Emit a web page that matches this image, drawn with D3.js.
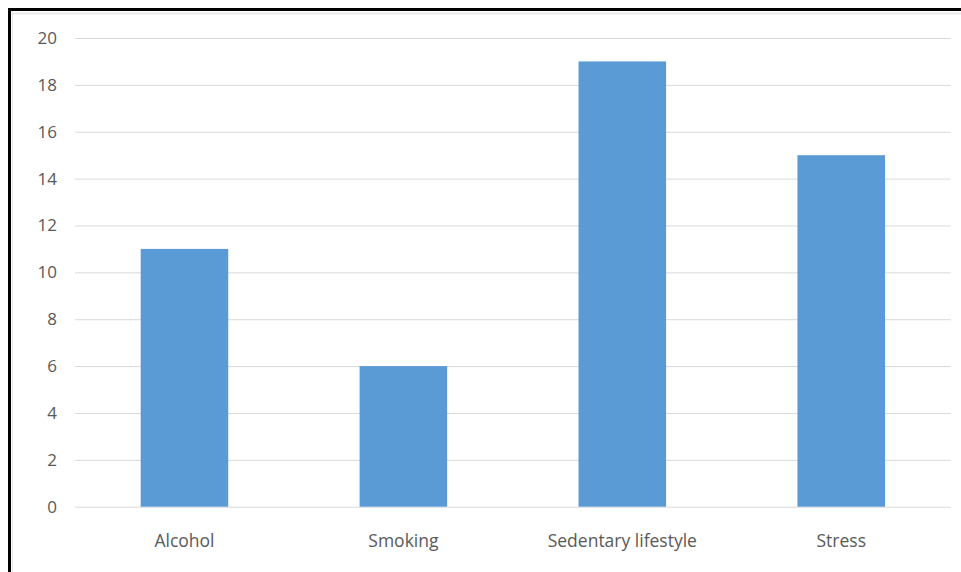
<!DOCTYPE html>
<html>
<head>
<meta charset="utf-8">
<script src="https://d3js.org/d3.v7.min.js"></script>
<style>
  html, body { margin: 0; padding: 0; background: #fff; }
  svg { display: block; }
</style>
</head>
<body>
<svg id="chart" width="961" height="572"></svg>
<script>
const categories = ["Alcohol", "Smoking", "Sedentary lifestyle", "Stress"];
const values = [11, 6, 19, 15];
const yTicks = [0, 2, 4, 6, 8, 10, 12, 14, 16, 18, 20];

const svg = d3.select("#chart");
const W = 961, H = 572;
const plot = { left: 75, right: 950.7, top: 38, bottom: 506.7 };
const FONT = "'Open Sans', 'Noto Sans', sans-serif";

// frame
svg.append("rect").attr("x", 0).attr("y", 0).attr("width", W).attr("height", H).attr("fill", "#fff");
svg.append("line").attr("x1", 11.5).attr("x2", W).attr("y1", 13.5).attr("y2", 13.5)
  .attr("stroke", "#e4e4e4").attr("stroke-width", 1.5);
svg.append("line").attr("x1", 12.5).attr("x2", 12.5).attr("y1", 11).attr("y2", H)
  .attr("stroke", "#e4e4e4").attr("stroke-width", 1);
svg.append("path").attr("d", `M${W},9.5 H9.5 V${H}`)
  .attr("fill", "none").attr("stroke", "#000").attr("stroke-width", 3);

const x = d3.scaleBand().domain(categories).range([plot.left, plot.right]).paddingInner(0).paddingOuter(0);
const y = d3.scaleLinear().domain([0, 20]).range([plot.bottom, plot.top]);

// gridlines + y labels
const yAxis = d3.axisLeft(y).tickValues(yTicks).tickSize(-(plot.right - plot.left)).tickPadding(18);
const gy = svg.append("g").attr("transform", `translate(${plot.left},0)`).call(yAxis);
gy.select(".domain").remove();
gy.selectAll(".tick line").attr("stroke", "#d9d9d9").attr("stroke-width", 1);
gy.selectAll(".tick text").attr("fill", "#595959").attr("font-family", FONT).attr("font-size", "17px");

// bars
const barW = x.bandwidth() * 0.4;
svg.append("g").selectAll("rect").data(categories).join("rect")
  .attr("x", (d) => x(d) + (x.bandwidth() - barW) / 2)
  .attr("width", barW)
  .attr("y", (d, i) => y(values[i]))
  .attr("height", (d, i) => y(0) - y(values[i]))
  .attr("fill", "#5b9bd5");

// x axis labels
const xAxis = d3.axisBottom(x).tickSize(0).tickPadding(28);
const gx = svg.append("g").attr("transform", `translate(0,${plot.bottom})`).call(xAxis);
gx.select(".domain").remove();
gx.selectAll(".tick text").attr("fill", "#595959").attr("font-family", FONT).attr("font-size", "17.5px");
</script>
</body>
</html>
